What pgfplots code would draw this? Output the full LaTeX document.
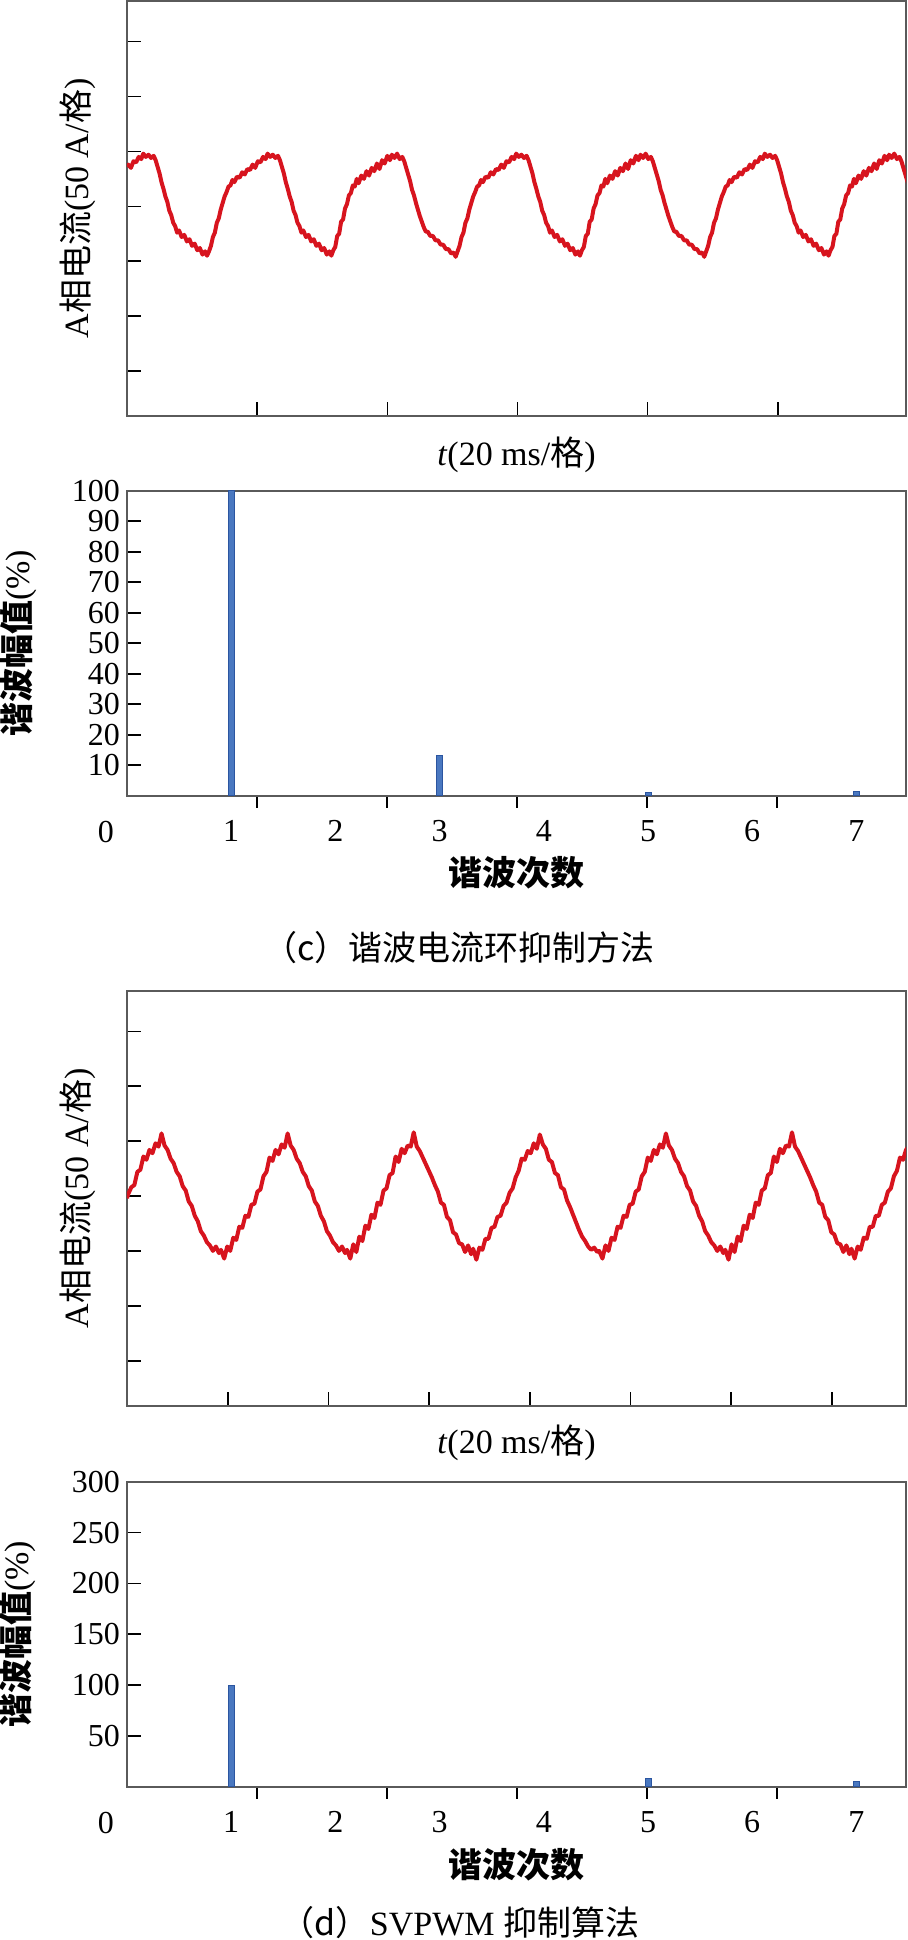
\documentclass[border=0pt]{standalone}
\usepackage{fontspec}
\setmainfont{Liberation Serif}
\newfontfamily\cjk{Noto Sans CJK SC}
\usepackage{pgfplots}
\pgfplotsset{compat=1.18}

\definecolor{wavered}{RGB}{215,20,30}
\definecolor{barblue}{RGB}{74,120,192}
\definecolor{bardark}{RGB}{43,85,160}
\definecolor{axgray}{RGB}{90,90,90}

\pgfplotsset{
  base/.style={
    scale only axis,
    width=389.5pt,
    axis line style={axgray, line width=1.1pt},
    tick style={black, line width=0.8pt},
    tick align=inside,
    xtick pos=bottom, ytick pos=left,
    tick label style={font=\fontsize{16}{16}\selectfont},
    /pgf/number format/assume math mode=true,
    label style={font=\fontsize{17}{17}\selectfont},
  },
  wave/.style={
    base,
    height=207.5pt,
    ymin=-191, ymax=187,
    xmin=0,
    ytick={-150,-100,...,150}, yticklabels={},
    xticklabels={},
    major tick length=7pt,
    ylabel={A{\cjk 相电流}(50 A/{\cjk 格})},
    xlabel={\textit{t}(20 ms/{\cjk 格})},
    ylabel style={at={(axis description cs:-0.063,0.5)}, anchor=center},
  },
  spec/.style={
    base,
    height=152.5pt,
    ybar, bar width=3pt,
    xmin=0, xmax=7.476, ymin=0,
    xtick={0,1,...,7},
    xticklabels={\llap{0\hspace{6.5pt}},1,2,3,4,5,6,7},
    xticklabel style={yshift=-2pt},
    minor xtick={1.248,2.496,3.744,4.992,6.24},
    major x tick style={draw=none},
    minor tick length=6pt,
    major tick length=7pt,
    ylabel={{\cjk\bfseries 谐波幅值}(\%)},
    xlabel={{\cjk\bfseries 谐波次数}},
  },
}

\begin{document}
\begin{tikzpicture}
\path[use as bounding box] (0,0) rectangle (454pt,-970pt);

% (c) phase A current
\begin{axis}[wave, at={(63.5pt,-0.5pt)}, anchor=north west,
  xmax=119.7, xtick={20,40,...,100},
  xlabel style={at={(axis description cs:0.5,-0.094)}, anchor=center}]
\addplot[wavered, line width=2pt, line join=round] coordinates {
(0.0,36) (0.2,38) (0.6,35) (1.0,41) (1.4,40) (1.8,45) (2.2,43) (2.5,48) (2.9,45) (3.3,47) (3.7,44) (4.1,46)
(4.4,42) (4.7,36) (5.0,30) (5.3,22) (5.6,16) (5.9,9) (6.2,4) (6.5,-4) (6.8,-8) (7.1,-15) (7.4,-18) (7.7,-24)
(8.0,-22) (8.4,-28) (8.8,-26) (9.2,-32) (9.6,-30) (10.0,-36) (10.4,-34) (10.8,-40) (11.2,-38) (11.6,-44) (12.0,-41) (12.3,-45)
(12.6,-41) (12.9,-36) (13.2,-28) (13.5,-24) (13.8,-15) (14.1,-11) (14.4,-3) (14.7,3) (15.0,9) (15.3,13) (15.6,18) (15.9,19)
(16.2,24) (16.5,22) (16.9,27) (17.3,26) (17.7,31) (18.1,29) (18.5,34) (18.9,33) (19.3,38) (19.7,35) (20.1,41) (20.5,40)
(20.9,45) (21.3,43) (21.6,48) (22.0,45) (22.4,47) (22.8,44) (23.2,46) (23.5,42) (23.8,36) (24.1,30) (24.4,22) (24.7,16)
(25.0,9) (25.3,4) (25.6,-4) (25.9,-8) (26.2,-15) (26.5,-18) (26.8,-24) (27.1,-22) (27.5,-28) (27.9,-26) (28.3,-32) (28.7,-30)
(29.1,-36) (29.5,-34) (29.9,-40) (30.3,-38) (30.7,-44) (31.1,-41) (31.4,-45)
(31.7,-40) (32.0,-37) (32.3,-27) (32.6,-25) (32.9,-14) (33.2,-12) (33.5,-2) (33.8,2) (34.1,10) (34.4,12) (34.7,19) (35.0,18)
(35.3,25) (35.6,21) (36.0,28) (36.4,25) (36.8,32) (37.2,28) (37.6,35) (38.0,32) (38.4,39) (38.8,34) (39.2,42) (39.6,39)
(40.0,46) (40.4,42) (40.7,47) (41.1,44) (41.5,48) (41.9,43) (42.3,45) (42.6,41) (42.9,35) (43.2,29) (43.5,23) (43.8,15)
(44.1,10) (44.4,3) (44.7,-3) (45.0,-9) (45.3,-14) (45.6,-19) (45.9,-23) (46.2,-23) (46.6,-27) (47.0,-27) (47.4,-31) (47.8,-31)
(48.2,-35) (48.6,-35) (49.0,-39) (49.4,-39) (49.8,-43) (50.2,-42) (50.5,-46)
(50.8,-41) (51.1,-36) (51.4,-28) (51.7,-24) (52.0,-15) (52.3,-11) (52.6,-3) (52.9,3) (53.2,9) (53.5,13) (53.8,18) (54.1,19)
(54.4,24) (54.7,22) (55.1,27) (55.5,26) (55.9,31) (56.3,29) (56.7,34) (57.1,33) (57.5,38) (57.9,35) (58.3,41) (58.7,40)
(59.1,45) (59.5,43) (59.8,48) (60.2,45) (60.6,47) (61.0,44) (61.4,46) (61.7,42) (62.0,36) (62.3,30) (62.6,22) (62.9,16)
(63.2,9) (63.5,4) (63.8,-4) (64.1,-8) (64.4,-15) (64.7,-18) (65.0,-24) (65.3,-22) (65.7,-28) (66.1,-26) (66.5,-32) (66.9,-30)
(67.3,-36) (67.7,-34) (68.1,-40) (68.5,-38) (68.9,-44) (69.3,-41) (69.6,-45)
(69.9,-40) (70.2,-37) (70.5,-27) (70.8,-25) (71.1,-14) (71.4,-12) (71.7,-2) (72.0,2) (72.3,10) (72.6,12) (72.9,19) (73.2,18)
(73.5,25) (73.8,21) (74.2,28) (74.6,25) (75.0,32) (75.4,28) (75.8,35) (76.2,32) (76.6,39) (77.0,34) (77.4,42) (77.8,39)
(78.2,46) (78.6,42) (78.9,47) (79.3,44) (79.7,48) (80.1,43) (80.5,45) (80.8,41) (81.1,35) (81.4,29) (81.7,23) (82.0,15)
(82.3,10) (82.6,3) (82.9,-3) (83.2,-9) (83.5,-14) (83.8,-19) (84.1,-23) (84.4,-23) (84.8,-27) (85.2,-27) (85.6,-31) (86.0,-31)
(86.4,-35) (86.8,-35) (87.2,-39) (87.6,-39) (88.0,-43) (88.4,-42) (88.7,-46)
(89.0,-41) (89.3,-36) (89.6,-28) (89.9,-24) (90.2,-15) (90.5,-11) (90.8,-3) (91.1,3) (91.4,9) (91.7,13) (92.0,18) (92.3,19)
(92.6,24) (92.9,22) (93.3,27) (93.7,26) (94.1,31) (94.5,29) (94.9,34) (95.3,33) (95.7,38) (96.1,35) (96.5,41) (96.9,40)
(97.3,45) (97.7,43) (98.0,48) (98.4,45) (98.8,47) (99.2,44) (99.6,46) (99.9,42) (100.2,36) (100.5,30) (100.8,22) (101.1,16)
(101.4,9) (101.7,4) (102.0,-4) (102.3,-8) (102.6,-15) (102.9,-18) (103.2,-24) (103.5,-22) (103.9,-28) (104.3,-26) (104.7,-32) (105.1,-30)
(105.5,-36) (105.9,-34) (106.3,-40) (106.7,-38) (107.1,-44) (107.5,-41) (107.8,-45)
(108.1,-40) (108.4,-37) (108.7,-27) (109.0,-25) (109.3,-14) (109.6,-12) (109.9,-2) (110.2,2) (110.5,10) (110.8,12) (111.1,19) (111.4,18)
(111.7,25) (112.0,21) (112.4,28) (112.8,25) (113.2,32) (113.6,28) (114.0,35) (114.4,32) (114.8,39) (115.2,34) (115.6,42) (116.0,39)
(116.4,46) (116.8,42) (117.1,47) (117.5,44) (117.9,48) (118.3,43) (118.7,45) (119.0,41) (119.3,35) (119.6,29) (119.9,23) (120.0,21)
};
\end{axis}

% (c) spectrum
\begin{axis}[spec, at={(63.5pt,-245.35pt)}, anchor=north west,
  ymax=100, ytick={10,20,...,100},
  ylabel style={at={(axis description cs:-0.1386,0.5)}, anchor=center},
  xlabel style={at={(axis description cs:0.5,-0.2534)}, anchor=center}]
\addplot[fill=barblue, draw=bardark, line width=0.4pt] coordinates {
(1,100) (3,13.2) (5,1.0) (7,1.4)
};
\end{axis}

\node[font=\cjk\fontsize{17}{17}\selectfont] at (229.5pt,-474pt) {（c）谐波电流环抑制方法};

% (d) phase A current
\begin{axis}[wave, at={(63.5pt,-495.35pt)}, anchor=north west,
  xmax=154.7, xtick={20,40,...,140},
  xlabel style={at={(axis description cs:0.5,-0.09)}, anchor=center}]
\addplot[wavered, line width=2pt, line join=round] coordinates {
(0.0,-2) (0.26,2) (0.86,8) (1.46,10) (2.06,22) (2.66,24) (3.26,36) (3.86,33) (4.46,42) (5.06,39)
(5.66,48) (6.26,45) (6.86,57) (7.46,46) (8.06,42) (8.66,34) (9.26,30) (9.86,22) (10.46,18) (11.06,9)
(11.66,5) (12.26,-5) (12.86,-9) (13.46,-18) (14.06,-23) (14.66,-32) (15.26,-36) (15.86,-42) (16.46,-45) (17.06,-50)
(17.66,-46) (18.26,-52) (18.66,-49) (19.3,-57)
(19.9,-46) (20.5,-50) (21.1,-38) (21.7,-40) (22.3,-28) (22.9,-29) (23.5,-18) (24.1,-19) (24.7,-8) (25.3,-7)
(25.9,4) (26.5,6) (27.1,18) (27.7,22) (28.3,35) (28.9,32) (29.5,42) (30.1,38) (30.7,47) (31.3,44)
(31.9,57) (32.5,46) (33.1,42) (33.7,34) (34.3,30) (34.9,22) (35.5,18) (36.1,9) (36.7,5) (37.3,-5)
(37.9,-9) (38.5,-18) (39.1,-23) (39.7,-32) (40.3,-36) (40.9,-42) (41.5,-45) (42.1,-50) (42.7,-46) (43.3,-52)
(43.7,-49) (44.34,-57)
(44.94,-44) (45.54,-51) (46.14,-37) (46.74,-41) (47.34,-27) (47.94,-30) (48.54,-17) (49.14,-20) (49.74,-6) (50.34,-8)
(50.94,5) (51.54,7) (52.14,19) (52.74,21) (53.34,36) (53.94,31) (54.54,43) (55.14,39) (55.74,46) (56.34,45)
(56.94,58) (57.54,45) (58.14,41) (58.74,35) (59.34,29) (59.94,23) (60.54,17) (61.14,10) (61.74,4) (62.34,-6)
(62.94,-8) (63.54,-19) (64.14,-22) (64.74,-33) (65.34,-35) (65.94,-43) (66.54,-44) (67.14,-51) (67.74,-45) (68.34,-53)
(68.74,-48) (69.38,-58)
(69.98,-47) (70.58,-49) (71.18,-39) (71.78,-39) (72.38,-29) (72.98,-28) (73.58,-19) (74.18,-18) (74.78,-9) (75.38,-6)
(75.98,3) (76.58,7) (77.18,17) (77.78,23) (78.38,34) (78.98,33) (79.58,41) (80.18,39) (80.78,48) (81.38,43)
(81.98,56) (82.58,47) (83.18,43) (83.78,33) (84.38,31) (84.98,21) (85.58,19) (86.18,8) (86.78,6) (87.38,-4)
(87.98,-10) (88.58,-17) (89.18,-24) (89.78,-31) (90.38,-37) (90.98,-41) (91.58,-46) (92.18,-49) (92.78,-47) (93.38,-51)
(93.78,-50) (94.42,-57)
(95.02,-45) (95.62,-50) (96.22,-38) (96.82,-40) (97.42,-28) (98.02,-29) (98.62,-18) (99.22,-19) (99.82,-8) (100.42,-7)
(101.02,4) (101.62,6) (102.22,18) (102.82,22) (103.42,35) (104.02,32) (104.62,42) (105.22,38) (105.82,47) (106.42,44)
(107.02,57) (107.62,46) (108.22,42) (108.82,34) (109.42,30) (110.02,22) (110.62,18) (111.22,9) (111.82,5) (112.42,-5)
(113.02,-9) (113.62,-18) (114.22,-23) (114.82,-32) (115.42,-36) (116.02,-42) (116.62,-45) (117.22,-50) (117.82,-46) (118.42,-52)
(118.82,-49) (119.46,-58)
(120.06,-44) (120.66,-51) (121.26,-37) (121.86,-41) (122.46,-27) (123.06,-30) (123.66,-17) (124.26,-20) (124.86,-6) (125.46,-8)
(126.06,5) (126.66,7) (127.26,19) (127.86,21) (128.46,36) (129.06,31) (129.66,43) (130.26,39) (130.86,46) (131.46,45)
(132.06,58) (132.66,45) (133.26,41) (133.86,35) (134.46,29) (135.06,23) (135.66,17) (136.26,10) (136.86,4) (137.46,-6)
(138.06,-8) (138.66,-19) (139.26,-22) (139.86,-33) (140.46,-35) (141.06,-43) (141.66,-44) (142.26,-51) (142.86,-45) (143.46,-53)
(143.86,-48) (144.5,-57)
(145.1,-46) (145.7,-49) (146.3,-38) (146.9,-39) (147.5,-28) (148.1,-28) (148.7,-18) (149.3,-18) (149.9,-8) (150.5,-6)
(151.1,4) (151.7,7) (152.3,18) (152.9,23) (153.5,35) (154.1,33) (154.7,42) (155.0,44)
};
\end{axis}

% (d) spectrum
\begin{axis}[spec, at={(63.5pt,-740.85pt)}, anchor=north west,
  ymax=300, ytick={50,100,...,300},
  ylabel style={at={(axis description cs:-0.1406,0.5)}, anchor=center},
  xlabel style={at={(axis description cs:0.5,-0.2567)}, anchor=center}]
\addplot[fill=barblue, draw=bardark, line width=0.4pt] coordinates {
(1,100) (5,8) (7,5.5)
};
\end{axis}

\node[font=\fontsize{17}{17}\selectfont] at (230pt,-961.5pt) {{\cjk （d）}SVPWM {\cjk 抑制算法}};
\end{tikzpicture}
\end{document}
